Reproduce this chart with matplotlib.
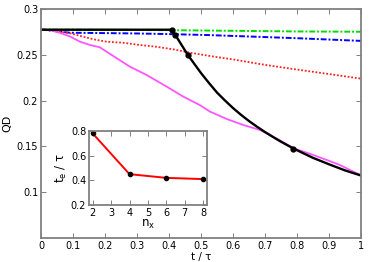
import numpy as np
import matplotlib
matplotlib.use("Agg")
import matplotlib.pyplot as plt

plt.rcParams["font.family"] = ["DejaVu Sans"]
plt.rcParams["font.size"] = 7

# curvas principais (t / tau, QD)
t_verde = [0.0, 0.2, 0.4, 0.6, 0.8, 1.0]
qd_verde = [0.2776, 0.2773, 0.2769, 0.2762, 0.2755, 0.2752]

t_azul = [0.0, 0.09, 0.2, 0.3, 0.4, 0.52, 0.65, 0.81, 1.0]
qd_azul = [0.2776, 0.2741, 0.2737, 0.2733, 0.2726, 0.2716, 0.2700, 0.2680, 0.2652]

t_verm = [0.0, 0.03, 0.059, 0.091, 0.132, 0.163, 0.205, 0.257, 0.309, 0.36,
          0.413, 0.466, 0.54, 0.60, 0.70, 0.81, 0.90, 1.0]
qd_verm = [0.2776, 0.2768, 0.2752, 0.2735, 0.2698, 0.267, 0.2643, 0.2632,
           0.2607, 0.2588, 0.256, 0.2523, 0.248, 0.245, 0.239, 0.2334,
           0.229, 0.224]

t_mag = [0.0, 0.028, 0.059, 0.091, 0.122, 0.153, 0.184, 0.205, 0.237, 0.278,
         0.330, 0.393, 0.445, 0.497, 0.528, 0.58, 0.632, 0.684, 0.716, 0.75,
         0.789, 0.84, 0.893, 0.934, 0.987, 1.0]
qd_mag = [0.2776, 0.277, 0.274, 0.270, 0.2643, 0.2607, 0.2582, 0.2534,
          0.2462, 0.237, 0.228, 0.2152, 0.2043, 0.195, 0.188, 0.180,
          0.1734, 0.168, 0.1624, 0.156, 0.148, 0.142, 0.1352, 0.1297,
          0.1206, 0.119]

t_preto = [0.0, 0.410, 0.420, 0.458, 0.50, 0.525, 0.55, 0.575, 0.60, 0.625,
           0.65, 0.675, 0.70, 0.725, 0.75, 0.789, 0.85, 0.90, 0.95, 1.0]
qd_preto = [0.2774, 0.2774, 0.2716, 0.2503, 0.2301, 0.2192, 0.2088, 0.2001,
            0.1919, 0.1845, 0.1777, 0.1715, 0.1657, 0.1603, 0.1551, 0.1477,
            0.1375, 0.1305, 0.1238, 0.1182]

t_pontos = [0.410, 0.420, 0.458, 0.789]
qd_pontos = [0.2774, 0.2716, 0.2503, 0.1477]

# inset
nx = [2, 4, 6, 8]
te = [0.78, 0.45, 0.42, 0.41]

cinza = "#808080"


def estilo(ax):
    for s in ax.spines.values():
        s.set_color(cinza)
        s.set_linewidth(1.3)
    ax.tick_params(direction="in", top=True, right=True, length=3.5,
                   width=0.7, color=cinza, pad=2)


fig = plt.figure(figsize=(3.74, 2.62), dpi=100)
ax = fig.add_axes([0.1096, 0.0916, 0.8556, 0.874])

ax.plot(t_verde, qd_verde, color="#00dd00", lw=1.4, ls=(0, (3, 1, 1, 1)))
ax.plot(t_azul, qd_azul, color="#0000ff", lw=1.4, ls=(0, (3, 1, 1, 1)))
ax.plot(t_verm, qd_verm, color="#ff2020", lw=1.3, ls=(0, (1, 1)))
ax.plot(t_mag, qd_mag, color="#ff55ff", lw=1.3)
ax.plot(t_preto, qd_preto, color="black", lw=1.7)
ax.plot(t_pontos, qd_pontos, "o", color="black", ms=3.5)

ax.set_xlim(0, 1)
ax.set_ylim(0.05, 0.3)
ax.set_xticks(np.arange(0, 1.01, 0.1))
ax.set_xticklabels(["0", "0.1", "0.2", "0.3", "0.4", "0.5", "0.6", "0.7",
                    "0.8", "0.9", "1"])
ax.set_yticks([0.1, 0.15, 0.2, 0.25, 0.3])
ax.set_yticklabels(["0.1", "0.15", "0.2", "0.25", "0.3"])
ax.set_xlabel("t / τ", fontsize=7.5)
ax.set_ylabel("QD", fontsize=8)
ax.xaxis.set_label_coords(0.5, -0.06)
ax.yaxis.set_label_coords(-0.09, 0.5)
estilo(ax)

axi = fig.add_axes([0.238, 0.2176, 0.315, 0.2824])
axi.plot(nx, te, color="#ff0000", lw=1.4)
axi.plot(nx, te, "o", color="black", ms=3)
axi.set_xlim(1.8, 8.2)
axi.set_ylim(0.2, 0.8)
axi.set_xticks(range(2, 9))
axi.set_yticks([0.2, 0.4, 0.6, 0.8])
axi.set_yticklabels(["0.2", "0.4", "0.6", "0.8"])
axi.set_xlabel("n$_\\mathregular{x}$", labelpad=0, fontsize=8.5)
axi.set_ylabel("t$_\\mathregular{e}$ / τ", labelpad=1, fontsize=8.5)
estilo(axi)

fig.savefig("out.png", dpi=100)
